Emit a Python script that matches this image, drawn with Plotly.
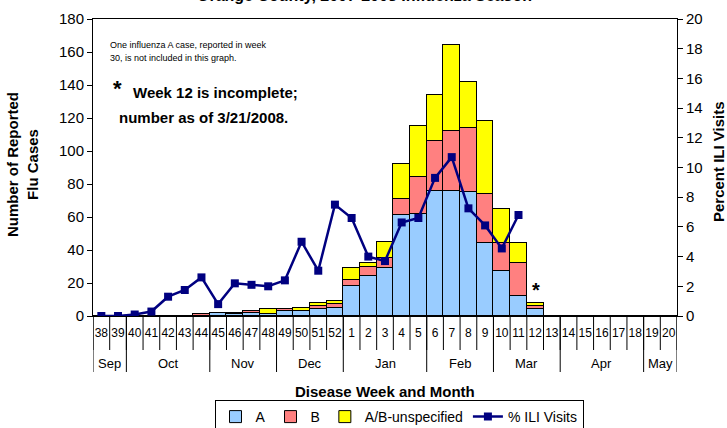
import plotly.graph_objects as go

weeks = [str(w) for w in list(range(38, 53)) + list(range(1, 21))]
flu_a = [0, 0, 0, 0, 0, 0, 0, 2, 1, 2, 1, 3, 3, 4, 5,
         18, 24, 29, 61, 62, 76, 76, 75, 44, 27, 12, 4, 0, 0, 0, 0, 0, 0, 0, 0]
flu_b = [0, 0, 0, 0, 0, 0, 1, 0, 0, 1, 0, 1, 0, 2, 2,
         4, 6, 6, 10, 22, 30, 36, 39, 30, 17, 20, 2, 0, 0, 0, 0, 0, 0, 0, 0]
flu_u = [0, 0, 0, 0, 0, 0, 0, 0, 1, 0, 3, 0, 2, 2, 2,
         7, 2, 10, 21, 31, 28, 52, 28, 44, 21, 12, 2, 0, 0, 0, 0, 0, 0, 0, 0]
ili = [0.0, 0.0, 0.1, 0.3, 1.3, 1.75, 2.6, 0.8, 2.2, 2.1, 2.0, 2.4, 5.0, 3.05, 7.5,
       6.6, 4.0, 3.7, 6.3, 6.6, 9.3, 10.7, 7.25, 6.1, 4.55, 6.8,
       None, None, None, None, None, None, None, None, None]
months = ["Sep", "Oct", "Nov", "Dec", "Jan", "Feb", "Mar", "Apr", "May"]
month_week_counts = [2, 5, 4, 4, 5, 4, 4, 5, 2]

FONT = "Arial, Liberation Sans, sans-serif"
# target screen geometry of the plot area
SX0, SX1, SY0, SY1 = 93, 677, 19, 316
W, H = 727, 428
L, T = SX0, SY0
R, B = W - SX1, H - SY1
PW, PH = SX1 - SX0, SY1 - SY0

def px(x):
    return (x - SX0) / PW

def py(y):
    return (SY1 - y) / PH

fig = go.Figure()
line_style = dict(color="black", width=1)
fig.add_trace(go.Bar(x=weeks, y=flu_a, name="A", marker=dict(color="#99CCFF", line=line_style)))
fig.add_trace(go.Bar(x=weeks, y=flu_b, name="B", marker=dict(color="#FF8080", line=line_style)))
fig.add_trace(go.Bar(x=weeks, y=flu_u, name="A/B-unspecified", marker=dict(color="#FFFF00", line=line_style)))
fig.add_trace(go.Scatter(x=weeks, y=ili, name="% ILI Visits", yaxis="y2", mode="lines+markers",
                         line=dict(color="#000080", width=2.5),
                         marker=dict(symbol="square", size=8, color="#000080")))

shapes = []
for k in range(len(weeks) + 1):
    shapes.append(dict(type="line", xref="x", yref="paper", x0=k - 0.5, x1=k - 0.5,
                       y0=0, y1=py(350), line=dict(color="black", width=1)))
annotations = []
start = 0
bounds = [0]
for m, n in zip(months, month_week_counts):
    annotations.append(dict(text=m, xref="x", yref="paper", x=start + (n - 1) / 2, y=py(363),
                            xanchor="center", yanchor="middle", showarrow=False,
                            font=dict(family=FONT, size=13, color="black")))
    start += n
    bounds.append(start)
for b in bounds:
    shapes.append(dict(type="line", xref="x", yref="paper", x0=b - 0.5, x1=b - 0.5,
                       y0=0, y1=py(372), line=dict(color="black", width=1)))

annotations += [
    dict(text="Orange County, 2007-2008 Influenza Season", xref="paper", yref="paper",
         x=px(364), y=py(6), xanchor="center", yanchor="bottom", showarrow=False,
         font=dict(family=FONT, size=16, color="black", weight="bold")),
    dict(text="One influenza A case, reported in week", xref="paper", yref="paper",
         x=px(108), y=py(45), xanchor="left", yanchor="middle", showarrow=False,
         font=dict(family=FONT, size=9, color="black")),
    dict(text="30, is not included in this graph.", xref="paper", yref="paper",
         x=px(108), y=py(58), xanchor="left", yanchor="middle", showarrow=False,
         font=dict(family=FONT, size=9, color="black")),
    dict(text="*", xref="paper", yref="paper",
         x=px(111), y=py(88), xanchor="left", yanchor="middle", showarrow=False,
         font=dict(family=FONT, size=22, color="black", weight="bold")),
    dict(text="Week 12 is incomplete;", xref="paper", yref="paper",
         x=px(131), y=py(92), xanchor="left", yanchor="middle", showarrow=False,
         font=dict(family=FONT, size=15, color="black", weight="bold")),
    dict(text="number as of 3/21/2008.", xref="paper", yref="paper",
         x=px(117), y=py(117), xanchor="left", yanchor="middle", showarrow=False,
         font=dict(family=FONT, size=15, color="black", weight="bold")),
    dict(text="*", xref="paper", yref="paper",
         x=px(536), y=py(290), xanchor="center", yanchor="middle", showarrow=False,
         font=dict(family=FONT, size=20, color="black", weight="bold")),
    dict(text="Disease Week and Month", xref="paper", yref="paper",
         x=px(385), y=py(391), xanchor="center", yanchor="middle", showarrow=False,
         font=dict(family=FONT, size=15, color="black", weight="bold")),
    dict(text="Number of Reported<br>Flu Cases", xref="paper", yref="paper",
         x=px(22), y=py(165), xanchor="center", yanchor="middle", showarrow=False, textangle=-90,
         font=dict(family=FONT, size=15, color="black", weight="bold")),
    dict(text="Percent ILI Visits", xref="paper", yref="paper",
         x=px(718), y=py(162), xanchor="center", yanchor="middle", showarrow=False, textangle=-90,
         font=dict(family=FONT, size=15, color="black", weight="bold")),
]

fig.update_layout(
    width=W, height=H,
    margin=dict(l=L, r=R, t=T, b=B, autoexpand=False),
    paper_bgcolor="white", plot_bgcolor="white",
    barmode="stack", bargap=0,
    font=dict(family=FONT, color="black"),
    showlegend=True,
    legend=dict(orientation="h", x=px(399), y=py(400), xanchor="center", yanchor="top",
                bordercolor="black", borderwidth=1, bgcolor="white",
                font=dict(family=FONT, size=14, color="black"),
                itemwidth=30, tracegroupgap=0, traceorder="normal"),
    xaxis=dict(type="category", range=[-0.5, len(weeks) - 0.5], autorange=False,
               showline=True, linecolor="black", linewidth=1, mirror=True,
               ticks="", showgrid=False, tickangle=0,
               tickfont=dict(family=FONT, size=12, color="black"),
               ticklabelstandoff=6, fixedrange=True),
    yaxis=dict(range=[0, 180], dtick=20, showline=True, linecolor="black", linewidth=1,
               ticks="outside", ticklen=5, tickcolor="black", showgrid=False, zeroline=False,
               tickfont=dict(family=FONT, size=15, color="black")),
    yaxis2=dict(range=[0, 20], dtick=2, overlaying="y", side="right", showline=True,
                linecolor="black", linewidth=1, ticks="outside", ticklen=5, tickcolor="black",
                showgrid=False, zeroline=False, tickfont=dict(family=FONT, size=15, color="black")),
    shapes=shapes,
    annotations=annotations,
)

fig.write_html("out.html", config={"displayModeBar": False},
               post_script="document.body.style.margin='0px';")
